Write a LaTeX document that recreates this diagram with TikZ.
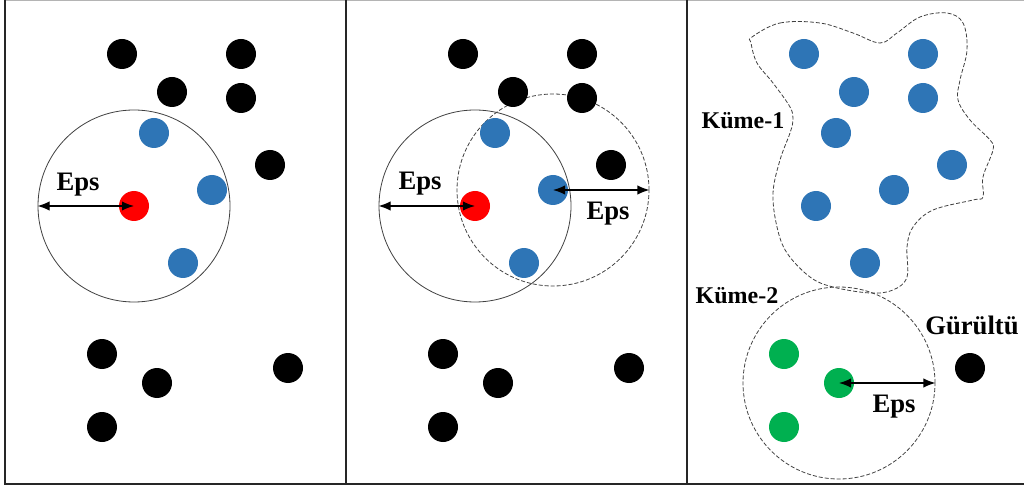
\documentclass[tikz,border=0pt]{standalone}
\usepackage{fontspec}
\setmainfont{Liberation Serif}
\usepackage{tikz}
\usetikzlibrary{arrows.meta, positioning, calc}
\definecolor{corered}{HTML}{FF0000}
\definecolor{borderblue}{HTML}{2E75B6}
\definecolor{clustergreen}{HTML}{00B050}
\definecolor{framegray}{HTML}{B4B4B4}
\definecolor{framedark}{HTML}{262626}
\tikzset{
  pt/.style={circle, inner sep=0pt, minimum size=22.5pt},
  noisept/.style={pt, fill=black},
  bluept/.style={pt, fill=borderblue},
  corept/.style={pt, fill=corered},
  greenpt/.style={pt, fill=clustergreen},
  epsball/.style={circle, draw=black!75, line width=0.6pt, minimum size=144pt, inner sep=0pt},
  epsdash/.style={epsball, dash pattern=on 3pt off 1.5pt},
  epsarrow/.style={{Latex[length=9pt,width=7pt]}-{Latex[length=9pt,width=7pt]}, line width=0.9pt},
  epslabel/.style={font=\fontsize{20}{22}\selectfont\bfseries, inner sep=0pt},
  kumelabel/.style={font=\fontsize{18}{20}\selectfont\bfseries, inner sep=0pt}
}

\begin{document}
\begin{tikzpicture}[x=0.75pt, y=-0.75pt]
    \useasboundingbox (0,0) rectangle (1024,488);

    % frame and panel separators
    \draw[framegray, line width=1pt] (5,0.6) -- (1024,0.6);
    \draw[framedark, line width=1.2pt] (5,0) -- (5,484) -- (1024,484);
    \draw[framedark, line width=1.2pt] (346,0) -- (346,484);
    \draw[framedark, line width=1.2pt] (687,0) -- (687,484);

    % Panel 1: one core point with its Eps neighbourhood
    \node[epsball] (epsA) at (134,206) {};
    \foreach \x/\y [count=\i] in {122/54, 241/54, 172/92, 241/98, 270/165,
                                  102/354, 157/383, 288/368, 102/427} {
      \node[noisept] (a\i) at (\x,\y) {};
    }
    \foreach \x/\y [count=\i] in {154/133, 212/190, 183/263} {
      \node[bluept] (ab\i) at (\x,\y) {};
    }
    \node[corept] (coreA) at (134,206) {};
    \draw[epsarrow] (coreA.center) -- (epsA.west);
    \node[epslabel] (epsAtxt) at (78,185) {Eps};

    % Panel 2: a border point reached from the core point
    \begin{scope}[shift={(341,0)}]
      \node[epsball] (epsB) at (134,206) {};
      \node[epsdash] (epsC) at (212,190) {};
      \foreach \x/\y [count=\i] in {122/54, 241/54, 172/92, 241/98, 270/165,
                                    102/354, 157/383, 288/368, 102/427} {
        \node[noisept] (b\i) at (\x,\y) {};
      }
      \foreach \x/\y [count=\i] in {154/133, 212/190, 183/263} {
        \node[bluept] (bb\i) at (\x,\y) {};
      }
      \node[corept] (coreB) at (134,206) {};
      \draw[epsarrow] (coreB.center) -- (epsB.west);
      \draw[epsarrow] (bb2.center) -- (epsC.east);
      \node[epslabel] (epsBtxt) at (79,184) {Eps};
      \node[epslabel] (epsCtxt) at (267,214) {Eps};
    \end{scope}

    % Panel 3: two clusters and one noise point
    \begin{scope}[shift={(682,0)}]
      \draw[black!75, line width=0.6pt, dash pattern=on 3pt off 1.5pt]
        plot[smooth cycle, tension=0.6] coordinates {
          (70,37) (98,23) (138,23) (171,33) (198,43) (215,33) (238,17)
          (265,13) (281,23) (285,50) (278,80) (276,100) (288,120) (308,140)
          (311,150) (301,177) (301,197) (291,200) (251,210) (231,227)
          (225,247) (225,277) (211,290) (188,293) (151,287) (128,277)
          (105,253) (95,227) (91,193) (98,160) (108,133) (111,120)
          (108,107) (91,83) (75,63) (69,43)};
      \node[epsdash] (epsD) at (157,383) {};
      \foreach \x/\y [count=\i] in {122/54, 241/54, 172/92, 241/98, 154/133,
                                    270/165, 212/190, 134/206, 183/263} {
        \node[bluept] (c\i) at (\x,\y) {};
      }
      \node[greenpt] (g1) at (102,354) {};
      \node[greenpt] (g2) at (157,383) {};
      \node[greenpt] (g3) at (102,427) {};
      \node[noisept] (noise) at (288,368) {};
      \draw[epsarrow] (g2.center) -- (epsD.east);
      \node[epslabel] (epsDtxt) at (212,407) {Eps};
      \node[kumelabel] (kume1) at (61,121) {Küme-1};
      \node[kumelabel] (kume2) at (55,296) {Küme-2};
      \node[epslabel] (gurultu) at (290,325) {Gürültü};
    \end{scope}
\end{tikzpicture}
\end{document}
